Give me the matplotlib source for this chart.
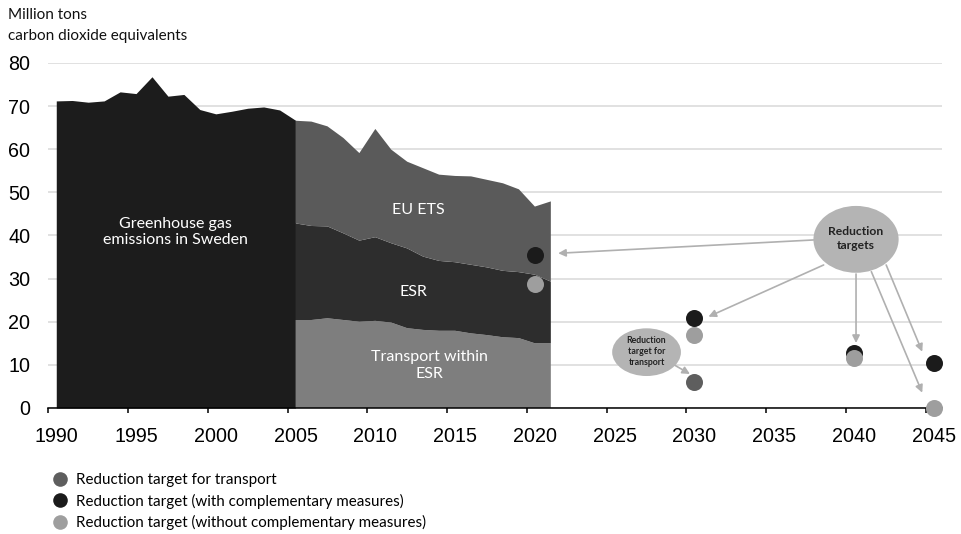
"""Swedish greenhouse gas emissions 1990-2021 with reduction targets to 2045."""

import matplotlib
matplotlib.use("Agg")
import matplotlib.pyplot as plt
from matplotlib.patches import Ellipse
from matplotlib.lines import Line2D

# historical totals, 1990-2005 (Mt CO2e)
years_hist = list(range(1990, 2006))
total_hist = [71.2, 71.3, 70.9, 71.2, 73.3, 72.9, 76.8, 72.3, 72.7, 69.2,
              68.2, 68.8, 69.5, 69.8, 69.1, 66.7]

# split by sector, 2005-2021
years_split = list(range(2005, 2022))
transport = [20.4, 20.4, 20.8, 20.4, 20.0, 20.2, 19.8, 18.5, 18.1, 17.9,
             17.9, 17.3, 16.9, 16.4, 16.2, 15.0, 15.0]
esr_other = [22.4, 21.8, 21.3, 20.1, 18.8, 19.4, 18.4, 18.5, 17.0, 16.2,
             15.9, 15.9, 15.7, 15.4, 15.3, 15.9, 14.3]
eu_ets = [23.8, 24.2, 23.2, 22.1, 20.3, 25.1, 21.7, 20.1, 20.5, 20.0,
          20.0, 20.5, 20.3, 20.3, 19.2, 15.8, 18.6]

# reduction targets
target_with_years = [2020, 2030, 2040, 2045]
target_with = [35.5, 20.8, 12.8, 10.5]
target_without_years = [2020, 2030, 2040, 2045]
target_without = [28.8, 16.9, 11.5, 0.0]
target_transport_years = [2030]
target_transport = [6.1]

labels = ["Reduction target for transport",
          "Reduction target (with complementary measures)",
          "Reduction target (without complementary measures)"]

C_HIST = "#1c1c1c"
C_ETS = "#5a5a5a"
C_ESR = "#2d2d2d"
C_TRANS = "#7e7e7e"
C_DOT_TRANS = "#5e5e5e"
C_DOT_WITH = "#1b1b1b"
C_DOT_WITHOUT = "#9e9e9e"
C_CALLOUT = "#b4b4b4"
C_ARROW = "#b0b0b0"

TEXT_FONT = ["Lato", "DejaVu Sans"]
NUM_FONT = ["Liberation Sans", "DejaVu Sans"]


def main():
    fig = plt.figure(figsize=(9.62, 5.34), dpi=100)
    ax = fig.add_axes([0.0502, 0.2360, 0.9287, 0.6461])

    ax.fill_between(years_hist, 0, total_hist, color=C_HIST, lw=0, zorder=2)
    ax.stackplot(years_split, transport, esr_other, eu_ets,
                 colors=[C_TRANS, C_ESR, C_ETS], lw=0, zorder=2)

    dot = dict(s=150, lw=0, zorder=5, clip_on=False)
    ax.scatter(target_transport_years, target_transport, color=C_DOT_TRANS, **dot)
    ax.scatter(target_with_years, target_with, color=C_DOT_WITH, **dot)
    ax.scatter(target_without_years, target_without, color=C_DOT_WITHOUT, **dot)

    # area labels
    txt = dict(color="white", fontsize=11.5, family=TEXT_FONT,
               ha="center", va="center", zorder=4, linespacing=1.25)
    ax.text(1997.5, 40.8, "Greenhouse gas\nemissions in Sweden", **txt)
    ax.text(2012.7, 45.9, "EU ETS", **txt)
    ax.text(2012.4, 27.0, "ESR", **txt)
    ax.text(2013.4, 9.9, "Transport within\nESR", **txt)

    # callout arrows
    arrows = [((2037.47, 38.96), (2021.46, 35.87)),
              ((2038.10, 33.16), (2030.88, 21.17)),
              ((2040.13, 31.07), (2040.13, 15.07)),
              ((2042.02, 33.16), (2044.28, 13.05)),
              ((2041.09, 31.61), (2044.28, 3.55)),
              ((2028.74, 9.97), (2029.72, 7.88))]
    for start, end in arrows:
        ax.annotate("", xy=end, xytext=start, zorder=3,
                    arrowprops=dict(arrowstyle="-|>", color=C_ARROW, lw=1.2,
                                    mutation_scale=11, shrinkA=0, shrinkB=0))

    ax.add_patch(Ellipse((2040.13, 39.1), 5.34, 15.5, color=C_CALLOUT, lw=0, zorder=4))
    ax.text(2040.13, 39.3, "Reduction\ntargets", fontsize=8.7, family=TEXT_FONT,
            fontweight="bold", color="#222222", ha="center", va="center",
            zorder=5, linespacing=1.35)
    ax.add_patch(Ellipse((2027.0, 12.94), 4.31, 11.06, color=C_CALLOUT, lw=0, zorder=4))
    ax.text(2027.0, 13.1, "Reduction\ntarget for\ntransport", fontsize=6.3,
            family=TEXT_FONT, fontweight="bold", color="#222222", ha="center",
            va="center", zorder=5, linespacing=1.3)

    # axes styling
    ax.set_xlim(1989.5, 2045.5)
    ax.set_ylim(0, 80)
    ax.set_yticks(range(0, 81, 10))
    ax.set_xticks(range(1990, 2046, 5))
    ax.set_xticks([1989.5 + 5 * k for k in range(12)], minor=True)
    ax.tick_params(axis="x", which="major", length=0, pad=13.5, labelsize=14.2)
    ax.tick_params(axis="x", which="minor", length=3.6, width=1.1, color="black")
    ax.tick_params(axis="y", length=0, pad=13, labelsize=14.2)
    for lab in ax.get_xticklabels() + ax.get_yticklabels():
        lab.set_family(NUM_FONT)
    ax.grid(axis="y", color="#d9d9d9", lw=1.1, zorder=0)
    ax.set_axisbelow(True)
    for side in ["top", "right", "left"]:
        ax.spines[side].set_visible(False)
    ax.spines["bottom"].set_linewidth(1.1)
    ax.spines["bottom"].set_zorder(3)

    fig.text(0.008, 0.972, "Million tons", fontsize=11, family=TEXT_FONT,
             ha="left", va="center", color="#111111")
    fig.text(0.008, 0.932, "carbon dioxide equivalents", fontsize=11,
             family=TEXT_FONT, ha="left", va="center", color="#111111")

    handles = [Line2D([], [], ls="none", marker="o", markersize=10.5, mew=0, color=c)
               for c in [C_DOT_TRANS, C_DOT_WITH, C_DOT_WITHOUT]]
    fig.legend(handles, labels, loc="upper left", bbox_to_anchor=(0.055, 0.114),
               frameon=False, borderpad=0, borderaxespad=0, handlelength=0.95,
               handletextpad=0.6, labelspacing=0.42,
               prop={"family": TEXT_FONT, "size": 10.9})

    fig.savefig("out.png", dpi=100)
    plt.close(fig)


if __name__ == "__main__":
    main()
